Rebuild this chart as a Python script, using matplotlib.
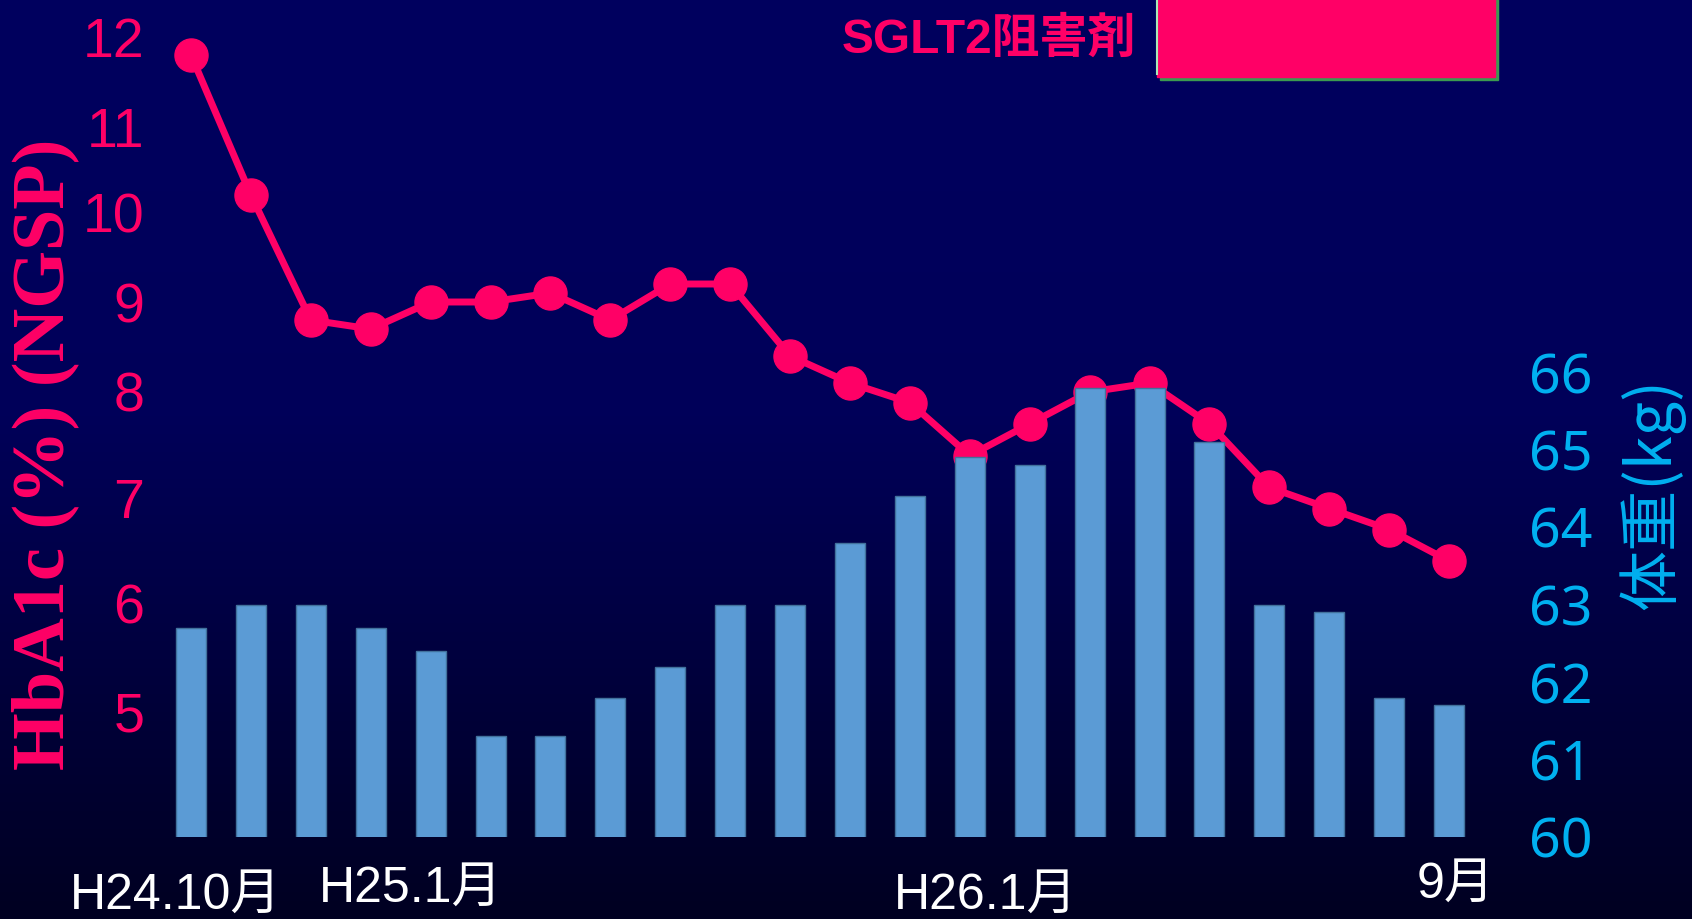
import numpy as np
import matplotlib
matplotlib.use("Agg")
import matplotlib.pyplot as plt
import matplotlib.transforms as mtransforms
from matplotlib import font_manager
from matplotlib.patches import Rectangle

# --- data ---
months = list(range(22))
hba1c = [11.8, 10.2, 8.8, 8.7, 9.0, 9.0, 9.1, 8.8, 9.2, 9.2, 8.4,
         8.1, 7.9, 7.4, 7.7, 8.0, 8.1, 7.7, 7.1, 6.9, 6.7, 6.4]
weight = [62.7, 63.0, 63.0, 62.7, 62.4, 61.3, 61.3, 61.8, 62.2, 63.0, 63.0,
          63.8, 64.4, 64.9, 64.8, 65.8, 65.8, 65.1, 63.0, 62.9, 61.8, 61.7]
date_labels = ["H24.10月", "H25.1月", "H26.1月", "9月"]
hba1c_ticks = [5, 6, 7, 8, 9, 10, 11, 12]
weight_ticks = [60, 61, 62, 63, 64, 65, 66]
sglt2_label = "SGLT2阻害剤"
sglt2_start, sglt2_end = 16.13, 21.77

PINK = "#FF0066"
CYAN = "#00B0F0"
BAR = "#5B9BD5"
BAR_EDGE = "#41719C"

W, H = 1692, 919
names = {f.name for f in font_manager.fontManager.ttflist}
NARROW = "Liberation Sans Narrow" if "Liberation Sans Narrow" in names else "Liberation Sans"
CJK = "Noto Sans CJK JP"

fig = plt.figure(figsize=(W / 100, H / 100), dpi=100)

# background gradient
bg = fig.add_axes([0, 0, 1, 1], zorder=-10)
t = np.linspace(0, 1, 400)
blue = np.interp(t, [0, 0.45, 1.0], [0.37, 0.35, 0.13])
grad = np.zeros((400, 1, 3))
grad[:, 0, 2] = blue
bg.imshow(grad, aspect="auto", extent=[0, 1, 0, 1])
bg.axis("off")

floor = 837  # pixel row of the plot floor
ax = fig.add_axes([150 / W, (H - floor) / H, 1350 / W, floor / H])
ax.set_facecolor("none")

# HbA1c axis in the reference is irregular: label heights (px above floor)
scale_vals = [3, 4, 5, 6, 7, 8, 9, 10, 11, 12, 13, 14]
scale_px = [-93, 16, 125, 234, 339, 445, 535, 625, 710, 800, 890, 980]


def fwd(v):
    return np.interp(v, scale_vals, scale_px)


def inv(h):
    return np.interp(h, scale_px, scale_vals)


ax.set_yscale("function", functions=(fwd, inv))
ax.set_ylim(inv(0), inv(floor))
ax.set_xlim(-0.684, 21.85)

ax.plot(months, hba1c, color=PINK, lw=5, marker="o", ms=23.8,
        mfc=PINK, mec=PINK, solid_joinstyle="round", clip_on=False)

ax.set_yticks(hba1c_ticks)
ax.set_xticks([])
ax.tick_params(axis="y", length=0, pad=4, labelcolor=PINK, labelsize=40)
for lbl in ax.get_yticklabels():
    lbl.set_fontfamily(NARROW)

ax2 = ax.twinx()
ax2.bar(months, weight, width=0.5, color=BAR, edgecolor=BAR_EDGE, linewidth=1)
ax2.set_ylim(60, 60 + floor / 77.5)
ax2.set_yticks(weight_ticks)
ax2.tick_params(axis="y", length=0, pad=21, labelcolor=CYAN, labelsize=40)
for lbl in ax2.get_yticklabels():
    lbl.set_fontfamily("Noto Sans")

for a in (ax, ax2):
    for s in a.spines.values():
        s.set_visible(False)

# SGLT2 period box at the top
tr = mtransforms.blended_transform_factory(ax.transData, ax.transAxes)
y0 = 1 - 77 / floor
ax2.add_patch(Rectangle((sglt2_start + 0.05, y0 - 3 / floor), sglt2_end - sglt2_start,
                        0.2, transform=tr, color="#3C9A50", clip_on=False, zorder=5))
ax2.add_patch(Rectangle((sglt2_start, y0), sglt2_end - sglt2_start, 0.2,
                        transform=tr, color=PINK, clip_on=False, zorder=6))
ax2.plot([sglt2_start, sglt2_start], [y0 + 0.003, 1.1], transform=tr,
         color="#A8E8B8", lw=1.5, clip_on=False, zorder=7)
fig.text(1136 / W, 1 - 40 / H, sglt2_label, ha="right", va="center",
         fontsize=34.5, weight="bold", color=PINK, family=["Liberation Sans", CJK])

# date labels under the bars
date_x = [-0.26, 3.67, 13.27, 21.1]
date_baseline = [909, 902, 909, 898]
trx = mtransforms.blended_transform_factory(ax.transData, fig.transFigure)
for lab, x, b in zip(date_labels, date_x, date_baseline):
    ax.text(x, (H - b) / H, lab, transform=trx, ha="center", va="baseline",
            color="white", fontsize=36, family=[NARROW, CJK], clip_on=False)

# axis titles
fig.text(45 / W, 1 - 454 / H, "HbA1c (%) (NGSP)", rotation=90, ha="center",
         va="center", fontsize=53.5, weight="bold", family="Liberation Serif", color=PINK)
fig.text(1652 / W, 1 - 494 / H, "体重(kg)", rotation=90, ha="center", va="center",
         fontsize=44, family=[CJK], color=CYAN)

fig.savefig("out.png", dpi=100)
